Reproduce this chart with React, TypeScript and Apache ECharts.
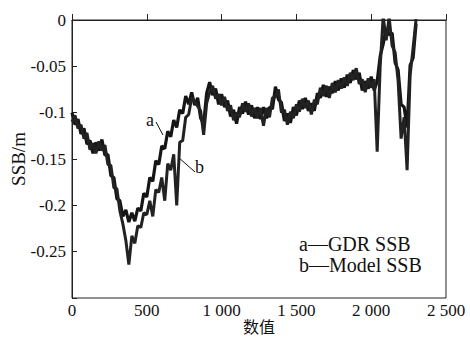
import React, { useEffect, useRef } from "react";
import * as echarts from "echarts";

const xValues = [
  0, 20, 40, 60, 80, 100, 120, 140, 160, 180,
  200, 220, 240, 260, 280, 300, 320, 340, 360, 380,
  400, 420, 440, 460, 480, 500, 520, 540, 560, 580,
  600, 620, 640, 660, 680, 700, 720, 740, 760, 780,
  800, 820, 840, 860, 880, 900, 920, 940, 960, 980,
  1000, 1020, 1040, 1060, 1080, 1100, 1120, 1140, 1160, 1180,
  1200, 1220, 1240, 1260, 1280, 1300, 1320, 1340, 1360, 1380,
  1400, 1420, 1440, 1460, 1480, 1500, 1520, 1540, 1560, 1580,
  1600, 1620, 1640, 1660, 1680, 1700, 1720, 1740, 1760, 1780,
  1800, 1820, 1840, 1860, 1880, 1900, 1920, 1940, 1960, 1980,
  2000, 2020, 2040, 2060, 2080, 2100, 2120, 2140, 2160, 2180,
  2200, 2220, 2240, 2260, 2280, 2300,
];

// a — GDR SSB
const gdrSSB = [
  -0.100, -0.113, -0.107, -0.123, -0.117, -0.134, -0.130, -0.144, -0.132, -0.141,
  -0.129, -0.146, -0.145, -0.168, -0.170, -0.193, -0.195, -0.212, -0.205, -0.218,
  -0.208, -0.217, -0.203, -0.206, -0.187, -0.191, -0.170, -0.174, -0.152, -0.156,
  -0.136, -0.139, -0.120, -0.126, -0.108, -0.116, -0.097, -0.101, -0.082, -0.091,
  -0.078, -0.092, -0.084, -0.106, -0.112, -0.079, -0.067, -0.081, -0.074, -0.091,
  -0.080, -0.094, -0.087, -0.104, -0.097, -0.112, -0.094, -0.101, -0.088, -0.102,
  -0.092, -0.106, -0.094, -0.107, -0.094, -0.106, -0.094, -0.096, -0.072, -0.086,
  -0.089, -0.109, -0.101, -0.111, -0.094, -0.103, -0.087, -0.096, -0.084, -0.098,
  -0.090, -0.098, -0.079, -0.084, -0.070, -0.083, -0.072, -0.079, -0.066, -0.076,
  -0.063, -0.073, -0.059, -0.068, -0.054, -0.064, -0.057, -0.076, -0.066, -0.074,
  -0.061, -0.076, -0.066, -0.039, -0.026, -0.009, -0.016, -0.014, -0.046, -0.054,
  -0.091, -0.094, -0.116, -0.049, -0.041, -0.004,
];

// b — Model SSB
const modelSSB = [
  -0.110, -0.103, -0.117, -0.113, -0.128, -0.122, -0.140, -0.133, -0.144, -0.131,
  -0.141, -0.135, -0.156, -0.157, -0.181, -0.182, -0.206, -0.220, -0.238, -0.264,
  -0.233, -0.241, -0.222, -0.224, -0.208, -0.210, -0.195, -0.212, -0.183, -0.186,
  -0.170, -0.195, -0.155, -0.162, -0.145, -0.200, -0.132, -0.130, -0.105, -0.102,
  -0.084, -0.088, -0.093, -0.098, -0.124, -0.090, -0.078, -0.071, -0.085, -0.080,
  -0.092, -0.083, -0.098, -0.092, -0.108, -0.100, -0.105, -0.090, -0.099, -0.090,
  -0.104, -0.095, -0.106, -0.095, -0.114, -0.095, -0.105, -0.084, -0.083, -0.075,
  -0.100, -0.097, -0.113, -0.099, -0.106, -0.091, -0.099, -0.085, -0.095, -0.087,
  -0.102, -0.086, -0.091, -0.073, -0.082, -0.071, -0.084, -0.068, -0.078, -0.065,
  -0.074, -0.062, -0.071, -0.057, -0.065, -0.052, -0.069, -0.064, -0.078, -0.063,
  -0.073, -0.064, -0.142, -0.050, 0.004, -0.022, 0.003, -0.028, -0.035, -0.066,
  -0.128, -0.105, -0.162, -0.060, -0.030, 0.001,
];

const xTickLabels = ["0", "500", "1 000", "1 500", "2 000", "2 500"];
const yTickLabels = ["0", "-0.05", "-0.1", "-0.15", "-0.2", "-0.25"];
const legendLines = ["a\u2014GDR SSB", "b\u2014Model SSB"];

const SERIF = "Liberation Serif";
const CJK = "Noto Sans CJK SC";

export default function App() {
  const ref = useRef<HTMLDivElement>(null);
  useEffect(() => {
    if (!ref.current) return;
    const chart = echarts.init(ref.current, null, { renderer: "svg" });
    const toPairs = (ys: number[]) => xValues.map((x, i) => [x, ys[i]]);
    chart.setOption({
      animation: false,
      backgroundColor: "#fff",
      textStyle: { fontFamily: SERIF },
      grid: {
        left: 72,
        right: 24,
        top: 20,
        bottom: 40,
        containLabel: false,
        outerBoundsMode: "none",
        show: true,
        borderColor: "#222",
        borderWidth: 1,
      },
      xAxis: {
        type: "value",
        min: 0,
        max: 2500,
        interval: 500,
        name: "数值",
        nameLocation: "middle",
        nameGap: 20,
        nameMoveOverlap: false,
        nameTextStyle: { fontFamily: CJK, fontSize: 16, color: "#111" },
        axisLine: { show: true, lineStyle: { color: "#222", width: 1 } },
        axisTick: { show: true, inside: true, length: 6, lineStyle: { color: "#222" } },
        splitLine: { show: false },
        axisLabel: {
          fontFamily: SERIF,
          fontSize: 17,
          color: "#111",
          margin: 4,
          formatter: (v: number) => xTickLabels[Math.round(v / 500)] ?? "",
        },
      },
      yAxis: {
        type: "value",
        min: -0.3,
        max: 0,
        interval: 0.05,
        name: "SSB/m",
        nameLocation: "middle",
        nameGap: 44,
        nameMoveOverlap: false,
        nameTextStyle: { fontFamily: SERIF, fontSize: 19, color: "#111" },
        axisLine: { show: true, lineStyle: { color: "#222", width: 1 } },
        axisTick: { show: true, inside: true, length: 5, lineStyle: { color: "#222" } },
        splitLine: { show: false },
        axisLabel: {
          fontFamily: SERIF,
          fontSize: 17,
          color: "#111",
          margin: 6,
          formatter: (v: number) => {
            const idx = Math.round(-v / 0.05);
            return yTickLabels[idx] ?? "";
          },
        },
      },
      series: [
        {
          name: "GDR SSB",
          type: "line",
          data: toPairs(gdrSSB),
          showSymbol: false,
          lineStyle: { color: "#151515", width: 3.2 },
          clip: true,
        },
        {
          name: "Model SSB",
          type: "line",
          data: toPairs(modelSSB),
          showSymbol: false,
          lineStyle: { color: "#222", width: 3 },
          clip: true,
        },
      ],
      graphic: [
        { type: "text", left: 146, top: 111, style: { text: "a", fontFamily: SERIF, fontSize: 18, fill: "#111" } },
        { type: "line", shape: { x1: 156, y1: 122, x2: 163, y2: 135 }, style: { stroke: "#111", lineWidth: 1 } },
        { type: "text", left: 195, top: 158, style: { text: "b", fontFamily: SERIF, fontSize: 18, fill: "#111" } },
        { type: "line", shape: { x1: 178, y1: 157, x2: 195, y2: 172 }, style: { stroke: "#111", lineWidth: 1 } },
        { type: "text", left: 299, top: 234, style: { text: legendLines[0], fontFamily: SERIF, fontSize: 20, fill: "#111" } },
        { type: "text", left: 299, top: 255, style: { text: legendLines[1], fontFamily: SERIF, fontSize: 20, fill: "#111" } },
      ],
    });
    return () => chart.dispose();
  }, []);
  return (
    <div
      ref={ref}
      style={{ position: "fixed", left: 0, top: 0, width: 470, height: 338 }}
    />
  );
}
